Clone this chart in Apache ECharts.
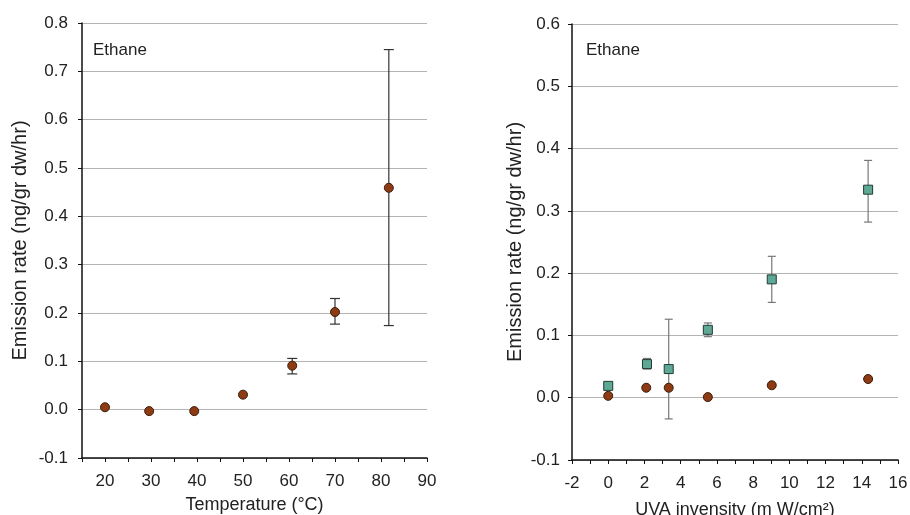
<!DOCTYPE html>
<html>
<head>
<meta charset="utf-8">
<script src="https://cdn.jsdelivr.net/npm/echarts@6/dist/echarts.min.js"></script>
<style>html,body{margin:0;padding:0;background:#fff}#c{width:910px;height:515px}</style>
</head>
<body>
<div id="c"></div>
<script>
// Left panel: temperature
const tempX = [20, 29.6, 39.4, 50, 60.7, 70, 81.7];
const tempY = [0.005, -0.003, -0.003, 0.031, 0.091, 0.202, 0.459];
const tempLo = [null, null, null, null, 0.074, 0.177, 0.174];
const tempHi = [null, null, null, null, 0.106, 0.230, 0.745];

// Right panel: UVA intensity
const uvaSqX = [0, 2.14, 3.34, 5.5, 9.03, 14.35];
const uvaSqY = [0.019, 0.054, 0.046, 0.109, 0.190, 0.334];
const uvaSqLo = [null, 0.046, -0.034, 0.098, 0.153, 0.282];
const uvaSqHi = [null, 0.063, 0.126, 0.120, 0.227, 0.381];
const uvaCircX = [0, 2.1, 3.34, 5.5, 9.03, 14.35];
const uvaCircY = [0.003, 0.016, 0.016, 0.001, 0.020, 0.030];

const panelLabel = 'Ethane';
const yTitle = 'Emission rate (ng/gr dw/hr)';
const xTitleLeft = 'Temperature (°C)';
const xTitleRight = 'UVA invensity (m W/cm²)';

const FONT = 'Liberation Sans, Arial, Helvetica, sans-serif';
const brown = '#8e3a12', brownBorder = '#3b1c0c';
const teal = '#5ea896', tealBorder = '#203a33';

function errData(xs, lo, hi) {
  const out = [];
  xs.forEach((x, i) => { if (lo[i] !== null) out.push([x, lo[i], hi[i]]); });
  return out;
}
function errRender(color, cap) {
  return function (params, api) {
    const x = api.value(0);
    const p1 = api.coord([x, api.value(1)]);
    const p2 = api.coord([x, api.value(2)]);
    const st = { stroke: color, lineWidth: 1.2 };
    return { type: 'group', children: [
      { type: 'line', shape: { x1: p1[0], y1: p1[1], x2: p2[0], y2: p2[1] }, style: st },
      { type: 'line', shape: { x1: p1[0] - cap, y1: p1[1], x2: p1[0] + cap, y2: p1[1] }, style: st },
      { type: 'line', shape: { x1: p2[0] - cap, y1: p2[1], x2: p2[0] + cap, y2: p2[1] }, style: st }
    ]};
  };
}

const axisTextStyle = { color: '#222', fontSize: 17, fontFamily: FONT };
function yAxis(gi, max, gap, margin) {
  return {
    type: 'value', gridIndex: gi, min: -0.1, max: max, interval: 0.1,
    name: yTitle, nameLocation: 'middle', nameGap: gap, nameRotate: 90,
    nameTextStyle: { color: '#222', fontSize: 20, fontFamily: FONT },
    axisLine: { show: true, onZero: false, lineStyle: { color: '#111', width: 1.5 } },
    axisTick: { show: true, length: 4, lineStyle: { color: '#111' } },
    axisLabel: Object.assign({ margin: margin, formatter: v => v.toFixed(1) }, axisTextStyle),
    splitLine: { show: true, lineStyle: { color: '#b4b4b4', width: 1 } }
  };
}
function xAxis(gi, min, max, interval, labelStep, name, gap) {
  return {
    type: 'value', gridIndex: gi, min: min, max: max, interval: interval,
    name: name, nameLocation: 'middle', nameGap: gap,
    nameTextStyle: { color: '#222', fontSize: 18, fontFamily: FONT },
    axisLine: { show: true, onZero: false, lineStyle: { color: '#111', width: 1.5 } },
    axisTick: { show: true, length: 4, lineStyle: { color: '#111' } },
    axisLabel: Object.assign({ margin: 15, showMinLabel: true, showMaxLabel: true,
      formatter: v => (Math.round(v) % labelStep === 0 ? String(Math.round(v)) : '') }, axisTextStyle),
    splitLine: { show: false }
  };
}

const chart = echarts.init(document.getElementById('c'), null, { renderer: 'canvas' });
chart.setOption({
  animation: false,
  backgroundColor: '#fff',
  grid: [
    { left: 82, right: 483, top: 23, bottom: 57, containLabel: false, outerBoundsMode: 'none' },
    { left: 572, right: 12, top: 24, bottom: 55, containLabel: false, outerBoundsMode: 'none' }
  ],
  xAxis: [
    xAxis(0, 15, 90, 5, 10, xTitleLeft, 38),
    xAxis(1, -2, 16, 1, 2, xTitleRight, 41)
  ],
  yAxis: [yAxis(0, 0.8, 52, 14), yAxis(1, 0.6, 47, 12)],
  graphic: [
    { type: 'text', left: 93, top: 42, style: { text: panelLabel, fill: '#222', font: '17px ' + FONT } },
    { type: 'text', left: 586, top: 42, style: { text: panelLabel, fill: '#222', font: '17px ' + FONT } }
  ],
  series: [
    { type: 'custom', xAxisIndex: 0, yAxisIndex: 0, z: 2,
      renderItem: errRender('#333', 5), data: errData(tempX, tempLo, tempHi),
      encode: { x: 0, y: [1, 2] } },
    { type: 'scatter', xAxisIndex: 0, yAxisIndex: 0, z: 5, symbol: 'circle', symbolSize: 9,
      itemStyle: { color: brown, borderColor: brownBorder, borderWidth: 1, opacity: 1 },
      data: tempX.map((x, i) => [x, tempY[i]]) },
    { type: 'custom', xAxisIndex: 1, yAxisIndex: 1, z: 2,
      renderItem: errRender('#777', 4), data: errData(uvaSqX, uvaSqLo, uvaSqHi),
      encode: { x: 0, y: [1, 2] } },
    { type: 'scatter', xAxisIndex: 1, yAxisIndex: 1, z: 5, symbol: 'circle', symbolSize: 9,
      itemStyle: { color: brown, borderColor: brownBorder, borderWidth: 1, opacity: 1 },
      data: uvaCircX.map((x, i) => [x, uvaCircY[i]]) },
    { type: 'scatter', xAxisIndex: 1, yAxisIndex: 1, z: 6, symbol: 'rect', symbolSize: 9,
      itemStyle: { color: teal, borderColor: tealBorder, borderWidth: 1, opacity: 1 },
      data: uvaSqX.map((x, i) => [x, uvaSqY[i]]) }
  ]
});
</script>
</body>
</html>
